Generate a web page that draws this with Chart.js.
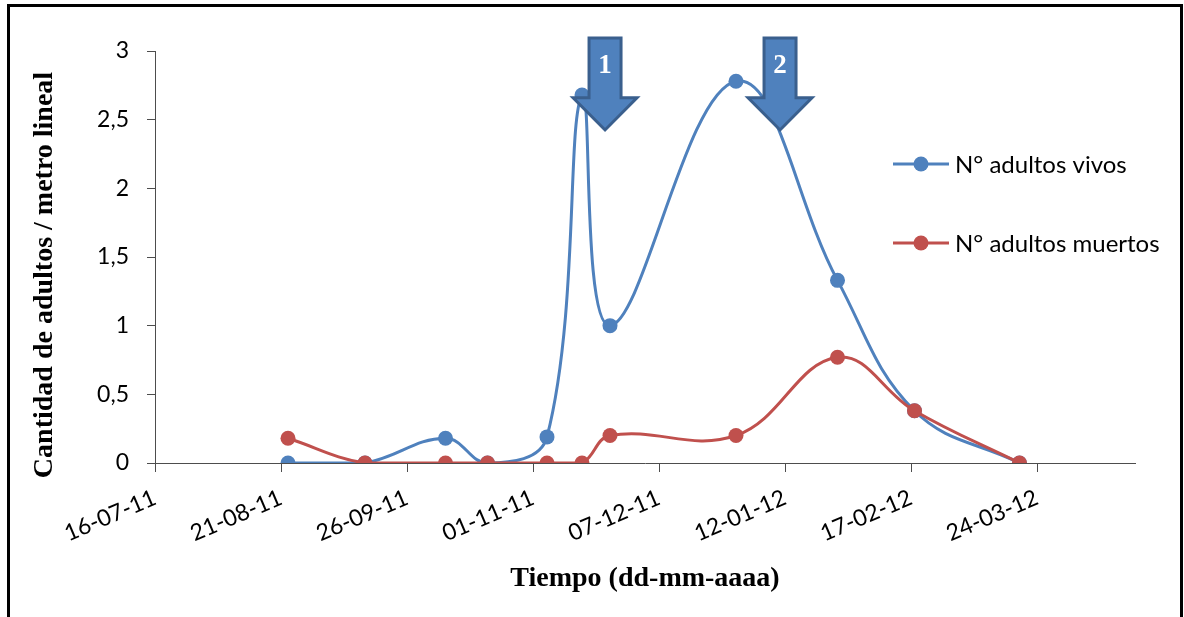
<!DOCTYPE html>
<html>

<head>
    <meta charset='UTF-8'>
    <title>Adultos vivos y muertos</title>
    <style>
        body {
            margin: 0;
            background: #fff;
        }

        #chart-container {
            position: relative;
            width: 1184px;
            height: 617px;
            overflow: hidden;
        }

        #frame {
            position: absolute;
            left: 7px;
            top: 4px;
            width: 1170px;
            height: 700px;
            border: 3px solid #000;
            pointer-events: none;
        }
    </style>
</head>

<body>
    <script src="https://cdn.jsdelivr.net/npm/chart.js@4.4.0/dist/chart.umd.min.js"></script>
    <div id="chart-container">
        <canvas id="chart" width="1184" height="617"></canvas>
        <div id="frame"></div>
    </div>

    <script>
        // fechas de muestreo
        let fechas = ['2011-08-23', '2011-09-14', '2011-10-07', '2011-10-19', '2011-11-05', '2011-11-15',
            '2011-11-23', '2011-12-29', '2012-01-27', '2012-02-18', '2012-03-19'];
        let vivos = [0, 0, 0.18, 0, 0.19, 2.68, 1.0, 2.78, 1.33, 0.38, 0];
        let muertos = [0.18, 0, 0, 0, 0, 0, 0.2, 0.2, 0.77, 0.38, 0];

        // eje x
        let fechaInicio = '2011-07-16';
        let fechaFinal = '2012-04-21';
        let tickFechas = ['2011-07-16', '2011-08-21', '2011-09-26', '2011-11-01', '2011-12-07', '2012-01-12',
            '2012-02-17', '2012-03-24'];
        let tickEtiquetas = ['16-07-11', '21-08-11', '26-09-11', '01-11-11', '07-12-11', '12-01-12', '17-02-12',
            '24-03-12'];

        // flechas (aplicaciones)
        let flechas = ['1', '2'];
        let flechaFechas = ['2011-11-21T14:00:00Z', '2012-01-10T14:00:00Z'];
        let flechaArriba = 3.095;
        let flechaCabeza = 2.66;
        let flechaPunta = 2.425;

        let tituloY = 'Cantidad de adultos / metro lineal';
        let tituloX = 'Tiempo (dd-mm-aaaa)';

        let azul = '#4F81BD';
        let rojo = '#C0504D';

        function dia(s) {
            return (Date.parse(s) - Date.parse(fechaInicio)) / 86400000;
        }

        function puntos(valores) {
            return fechas.map(function(f, i) {
                return { x: dia(f), y: valores[i] };
            });
        }

        let flechasPlugin = {
            id: 'flechas',
            afterDatasetsDraw: function(chart) {
                let ctx = chart.ctx;
                let x = chart.scales.x;
                let y = chart.scales.y;
                flechaFechas.forEach(function(f, i) {
                    let cx = x.getPixelForValue(dia(f));
                    let yTop = y.getPixelForValue(flechaArriba);
                    let yHead = y.getPixelForValue(flechaCabeza);
                    let yTip = y.getPixelForValue(flechaPunta);
                    ctx.save();
                    ctx.beginPath();
                    ctx.moveTo(cx - 16, yTop);
                    ctx.lineTo(cx + 16, yTop);
                    ctx.lineTo(cx + 16, yHead);
                    ctx.lineTo(cx + 32, yHead);
                    ctx.lineTo(cx, yTip);
                    ctx.lineTo(cx - 32, yHead);
                    ctx.lineTo(cx - 16, yHead);
                    ctx.closePath();
                    ctx.fillStyle = azul;
                    ctx.fill();
                    ctx.lineWidth = 3;
                    ctx.lineJoin = 'miter';
                    ctx.strokeStyle = '#3A5F8D';
                    ctx.stroke();
                    ctx.fillStyle = '#fff';
                    ctx.font = 'bold 27px "Liberation Serif"';
                    ctx.textAlign = 'center';
                    ctx.textBaseline = 'middle';
                    ctx.fillText(flechas[i], cx, (yTop + yHead) / 2 - 2);
                    ctx.restore();
                });
            }
        };

        // titulo del eje y, algo mas abajo que el centro del eje
        let tituloYPlugin = {
            id: 'tituloY',
            afterDraw: function(chart) {
                let ctx = chart.ctx;
                ctx.save();
                ctx.translate(45, 275);
                ctx.rotate(-Math.PI / 2);
                ctx.fillStyle = '#000';
                ctx.font = 'bold 28px "Liberation Serif"';
                ctx.textAlign = 'center';
                ctx.textBaseline = 'middle';
                ctx.fillText(tituloY, 0, 0);
                ctx.restore();
            }
        };

        let leyendaY = [164, 243];
        let leyendaPlugin = {
            id: 'leyenda',
            afterDraw: function(chart) {
                let ctx = chart.ctx;
                chart.data.datasets.forEach(function(ds, i) {
                    let x = 893;
                    let y = leyendaY[i];
                    ctx.save();
                    ctx.strokeStyle = ds.borderColor;
                    ctx.lineWidth = 3;
                    ctx.beginPath();
                    ctx.moveTo(x, y);
                    ctx.lineTo(x + 56, y);
                    ctx.stroke();
                    ctx.fillStyle = ds.borderColor;
                    ctx.beginPath();
                    ctx.arc(x + 28, y, 7.5, 0, Math.PI * 2);
                    ctx.fill();
                    ctx.fillStyle = '#000';
                    ctx.font = '24px Lato';
                    ctx.textBaseline = 'middle';
                    ctx.fillText(ds.label, x + 62, y + 1);
                    ctx.restore();
                });
            }
        };

        let tickFont = { family: 'Lato', size: 23 };
        let titleFont = { family: 'Liberation Serif', size: 28, weight: 'bold' };
        let ejeColor = '#4d4d4d';

        let context = document.getElementById('chart').getContext('2d');
        let chart = new Chart(context, {
            type: 'line',
            data: {
                datasets: [{
                    label: 'N° adultos vivos',
                    data: puntos(vivos),
                    borderColor: azul,
                    backgroundColor: azul,
                    borderWidth: 3,
                    pointRadius: 7.5,
                    pointHoverRadius: 7.5,
                    pointBorderWidth: 0,
                    tension: 0.4,
                    fill: false,
                    order: 1
                }, {
                    label: 'N° adultos muertos',
                    data: puntos(muertos),
                    borderColor: rojo,
                    backgroundColor: rojo,
                    borderWidth: 3,
                    pointRadius: 7.5,
                    pointHoverRadius: 7.5,
                    pointBorderWidth: 0,
                    tension: 0.4,
                    fill: false,
                    order: 0
                }]
            },
            options: {
                responsive: false,
                animation: false,
                layout: {
                    padding: { top: 51, right: 49, bottom: 0, left: 0 }
                },
                plugins: {
                    legend: { display: false },
                    tooltip: { enabled: false }
                },
                scales: {
                    x: {
                        type: 'linear',
                        min: 0,
                        max: dia(fechaFinal),
                        bounds: 'data',
                        afterBuildTicks: function(s) {
                            s.ticks = tickFechas.map(function(f) {
                                return { value: dia(f) };
                            });
                        },
                        afterFit: function(s) {
                            s.height = 154;
                        },
                        grid: {
                            drawOnChartArea: false,
                            tickLength: 9,
                            color: ejeColor
                        },
                        border: { color: ejeColor, width: 1 },
                        ticks: {
                            autoSkip: false,
                            minRotation: 23,
                            maxRotation: 23,
                            padding: 12,
                            font: tickFont,
                            color: '#000',
                            callback: function(v) {
                                let k = tickFechas.map(dia).indexOf(v);
                                return k >= 0 ? tickEtiquetas[k] : '';
                            }
                        },
                        title: {
                            display: true,
                            text: tituloX,
                            font: titleFont,
                            color: '#000',
                            padding: { top: 0, bottom: 21 }
                        }
                    },
                    y: {
                        min: 0,
                        max: 3,
                        afterFit: function(s) {
                            s.width = 155;
                        },
                        grid: {
                            drawOnChartArea: false,
                            tickLength: 8,
                            color: ejeColor
                        },
                        border: { color: ejeColor, width: 1 },
                        ticks: {
                            stepSize: 0.5,
                            padding: 18,
                            font: tickFont,
                            color: '#000',
                            callback: function(v) {
                                return String(v).replace('.', ',');
                            }
                        }
                    }
                }
            },
            plugins: [flechasPlugin, tituloYPlugin, leyendaPlugin]
        });
    </script>

</body>

</html>
